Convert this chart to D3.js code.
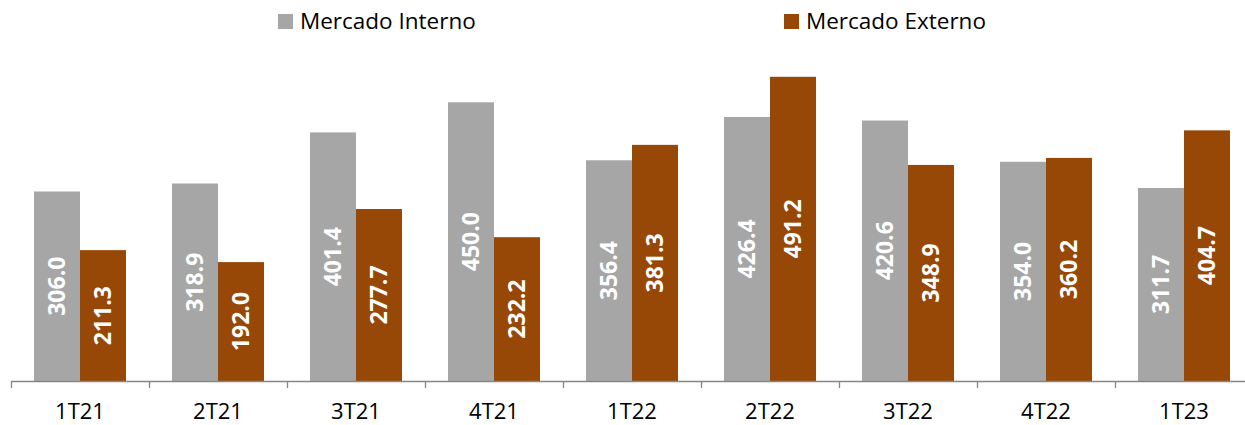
<!DOCTYPE html>
<html>
<head>
<meta charset="utf-8">
<script src="https://cdn.jsdelivr.net/npm/d3@7"></script>
<style>
  body { margin: 0; background: #fff; }
  text { font-family: "Open Sans", sans-serif; }
</style>
</head>
<body>
<div id="chart"></div>
<script>
// data
var quarters = ['1T21','2T21','3T21','4T21','1T22','2T22','3T22','4T22','1T23'];
var series = ['Mercado Interno','Mercado Externo'];
var interno = [306.0, 318.9, 401.4, 450.0, 356.4, 426.4, 420.6, 354.0, 311.7];
var externo = [211.3, 192.0, 277.7, 232.2, 381.3, 491.2, 348.9, 360.2, 404.7];
var colors = ['#A6A6A6', '#974706'];

let w = 1245, h = 425;
let baseY = 381;

var svg = d3.select('#chart')
    .append('svg')
    .attr('width', w)
    .attr('height', h);

var x = d3.scaleBand()
    .domain(quarters)
    .range([11, 11 + 9 * 138]);

var x1 = d3.scaleBand()
    .domain(series)
    .range([0, x.bandwidth()])
    .paddingOuter(0.5);

var y = d3.scaleLinear()
    .domain([0, 615.2])
    .range([baseY, 0]);

var rows = quarters.map(function(q, i){
    return {q: q, values: [interno[i], externo[i]]};
});

var groups = svg.selectAll('g.grp')
    .data(rows)
    .enter()
    .append('g')
    .attr('class', 'grp')
    .attr('transform', function(d){ return 'translate(' + x(d.q) + ',0)'; });

groups.selectAll('rect')
    .data(function(d){ return d.values.map(function(v, j){ return {s: series[j], v: v, j: j}; }); })
    .enter()
    .append('rect')
    .attr('x', function(d){ return x1(d.s); })
    .attr('y', function(d){ return y(d.v); })
    .attr('width', x1.bandwidth())
    .attr('height', function(d){ return baseY - y(d.v); })
    .attr('fill', function(d){ return colors[d.j]; });

// rotated value labels in the middle of each bar
groups.selectAll('text.val')
    .data(function(d){ return d.values.map(function(v, j){ return {s: series[j], v: v, j: j}; }); })
    .enter()
    .append('text')
    .attr('class', 'val')
    .attr('transform', function(d){
        let cx = x1(d.s) + x1.bandwidth() / 2;
        let cy = (y(d.v) + baseY) / 2;
        return 'translate(' + cx + ',' + cy + ') rotate(-90)';
    })
    .attr('dy', '0.36em')
    .style('text-anchor', 'middle')
    .style('font-size', '23px')
    .style('font-weight', 'bold')
    .style('fill', '#fff')
    .text(function(d){ return d.v.toFixed(1); });

// axis
svg.append('line')
    .attr('x1', 11).attr('x2', w)
    .attr('y1', baseY + 0.5).attr('y2', baseY + 0.5)
    .attr('stroke', '#868686')
    .attr('stroke-width', 1.3);

svg.selectAll('line.tick')
    .data(quarters)
    .enter()
    .append('line')
    .attr('class', 'tick')
    .attr('x1', function(d){ return Math.round(x(d)) + 0.5; })
    .attr('x2', function(d){ return Math.round(x(d)) + 0.5; })
    .attr('y1', baseY)
    .attr('y2', baseY + 7)
    .attr('stroke', '#868686')
    .attr('stroke-width', 1.3);

svg.selectAll('text.xlab')
    .data(quarters)
    .enter()
    .append('text')
    .attr('class', 'xlab')
    .attr('x', function(d){ return x(d) + x.bandwidth() / 2; })
    .attr('y', 419)
    .style('text-anchor', 'middle')
    .style('font-size', '22px')
    .style('fill', '#000')
    .text(function(d){ return d; });

// legend
var legX = [278, 784];
var leg = svg.selectAll('g.leg')
    .data(series)
    .enter()
    .append('g')
    .attr('class', 'leg')
    .attr('transform', function(d, i){ return 'translate(' + legX[i] + ',0)'; });

leg.append('rect')
    .attr('x', 0).attr('y', 14)
    .attr('width', 15).attr('height', 15)
    .attr('fill', function(d, i){ return colors[i]; });

leg.append('text')
    .attr('x', 22)
    .attr('y', 29)
    .style('font-size', '22.5px')
    .style('fill', '#000')
    .text(function(d){ return d; });
</script>
</body>
</html>
